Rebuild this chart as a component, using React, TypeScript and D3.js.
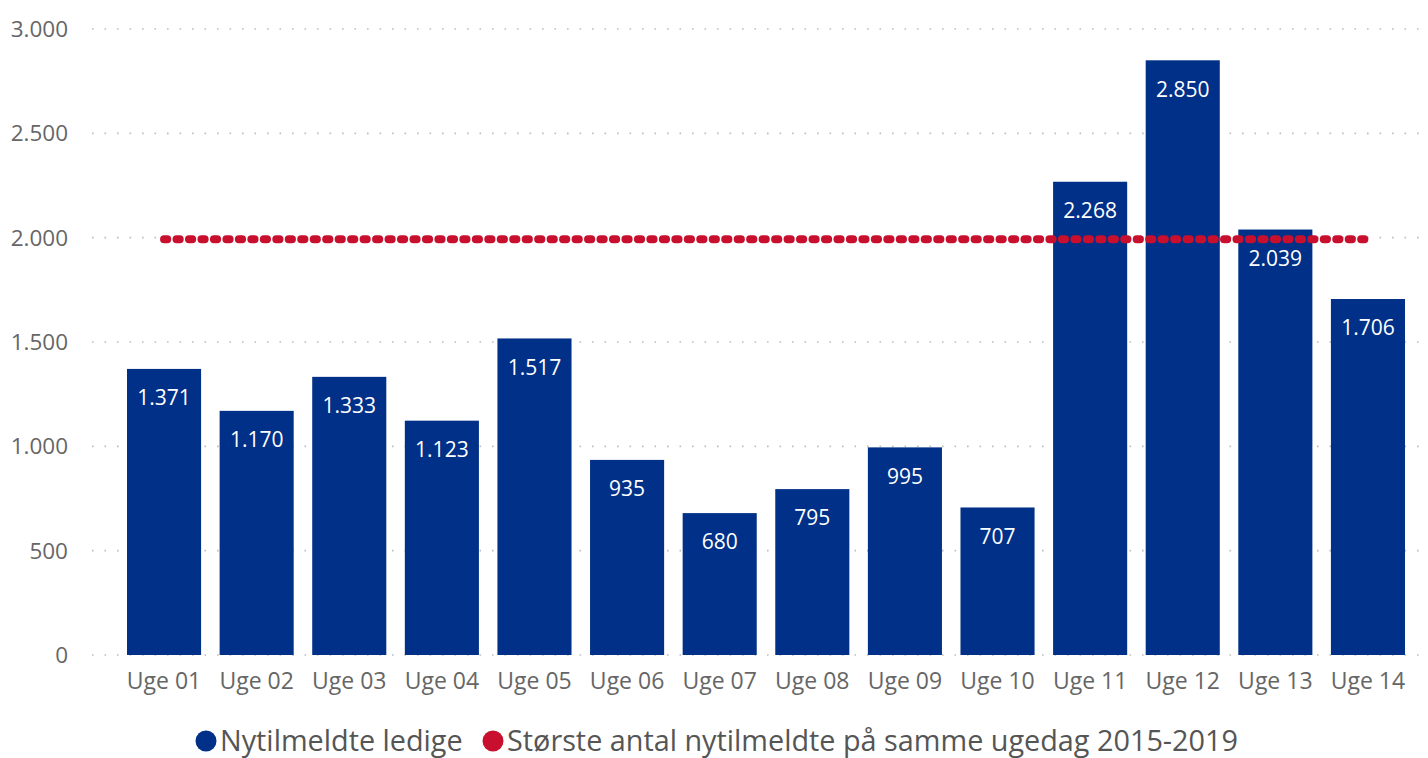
import React from "react";
import * as d3 from "d3";

const categories = ["Uge 01","Uge 02","Uge 03","Uge 04","Uge 05","Uge 06","Uge 07","Uge 08","Uge 09","Uge 10","Uge 11","Uge 12","Uge 13","Uge 14"];
const nytilmeldte = [1371,1170,1333,1123,1517,935,680,795,995,707,2268,2850,2039,1706];
const stoerste = [1993,1993,1993,1993,1993,1993,1993,1993,1993,1993,1993,1993,1993,1993];
const yTicks = [0,500,1000,1500,2000,2500,3000];
const seriesNames = ["Nytilmeldte ledige","Største antal nytilmeldte på samme ugedag 2015-2019"];

const W = 1428, H = 758;
const BLUE = "#003087";
const RED = "#C8102E";
const FONT = "'Open Sans', 'Noto Sans', sans-serif";
const fmt = (v: number) => d3.format(",")(v).replace(/,/g, ".");

export default function App() {
  const step = 92.6;
  const xs = d3.scaleBand<string>().domain(categories).range([127 - 0.1 * step, 1405 + 0.1 * step]).paddingInner(0.2).paddingOuter(0.1);
  const y = d3.scaleLinear().domain([0, 3000]).range([655, 29]);
  const line = d3.line<number>().x((_, i) => (xs(categories[i]) as number) + xs.bandwidth() / 2).y(d => y(d));
  return (
    <svg width={W} height={H} style={{ position: "absolute", left: 0, top: 0, background: "#fff" }} fontFamily={FONT}>
      {yTicks.map(t => (
        <g key={t}>
          <line x1={92} x2={W} y1={y(t)} y2={y(t)} stroke="#bdbdbd" strokeWidth={1.6} strokeDasharray="1.6 10.9" />
          <text x={68} y={y(t)} dy="0.35em" textAnchor="end" fontSize={22.5} fill="#666">{fmt(t)}</text>
        </g>
      ))}
      {categories.map((c, i) => {
        const bx = xs(c) as number;
        const v = nytilmeldte[i];
        return (
          <g key={c}>
            <rect x={bx} y={y(v)} width={xs.bandwidth()} height={y(0) - y(v)} fill={BLUE} />
            <text x={bx + xs.bandwidth() / 2} y={y(v) + 29} dy="0.35em" textAnchor="middle" fontSize={21} fill="#fff">{fmt(v)}</text>
            <text x={bx + xs.bandwidth() / 2} y={681} dy="0.35em" textAnchor="middle" fontSize={23} fill="#666">{c}</text>
          </g>
        );
      })}
      <path d={line(stoerste) || ""} fill="none" stroke={RED} strokeWidth={8} strokeLinecap="round" strokeDasharray="3.2 9.27" />
      <g>
        <circle cx={206} cy={741} r={10.5} fill={BLUE} />
        <text x={220} y={741} dy="0.35em" fontSize={28.8} fill="#555">{seriesNames[0]}</text>
        <circle cx={493} cy={741} r={10.5} fill={RED} />
        <text x={507} y={741} dy="0.35em" fontSize={28.8} fill="#555">{seriesNames[1]}</text>
      </g>
    </svg>
  );
}
